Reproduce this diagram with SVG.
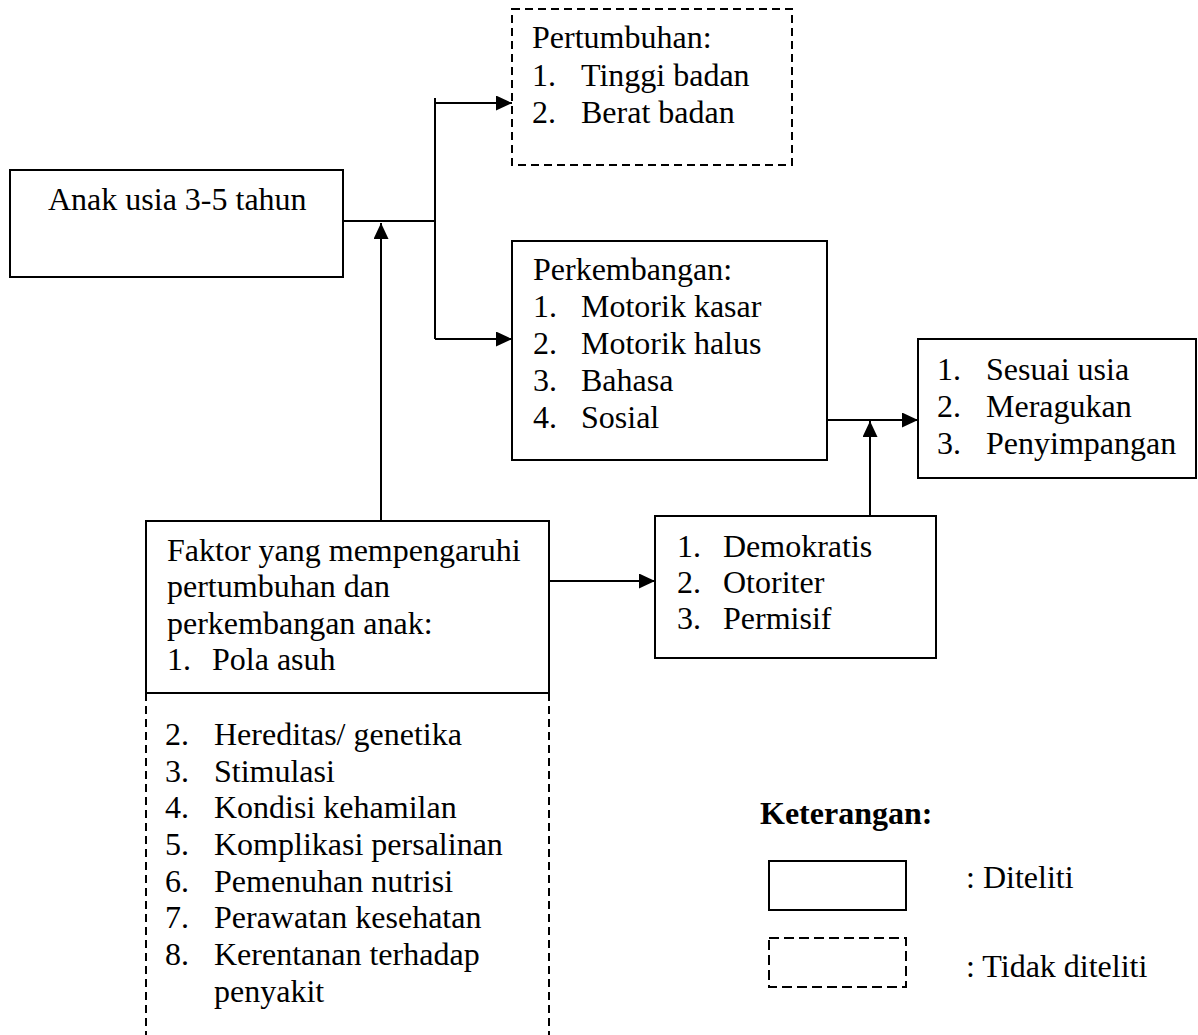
<svg xmlns="http://www.w3.org/2000/svg" width="1198" height="1035" viewBox="0 0 1198 1035">
<style>
  text { font-family: "Liberation Serif", "Times New Roman", serif; font-size: 32px; fill: #000; }
  .bold { font-weight: bold; }
  .box { fill: #fff; stroke: #000; stroke-width: 2; }
  .dash { fill: none; stroke: #000; stroke-width: 2; stroke-dasharray: 8 5; }
  .conn { fill: none; stroke: #000; stroke-width: 2; }
  .arrow { marker-end: url(#ah); }
</style>
<defs>
  <marker id="ah" markerUnits="userSpaceOnUse" markerWidth="16" markerHeight="16" refX="16" refY="7.5" orient="auto">
    <path d="M0,0 L16,7.5 L0,15 Z" fill="#000"/>
  </marker>
</defs>
<rect width="1198" height="1035" fill="#fff"/>

<g id="connectors">
  <path class="conn" d="M343,221 H435"/>
  <path class="conn" d="M435,98 V339"/>
  <path class="conn arrow" d="M435,103 H512"/>
  <path class="conn arrow" d="M435,339 H512"/>
  <path class="conn arrow" d="M381,521 V223"/>
  <path class="conn arrow" d="M827,420 H918"/>
  <path class="conn arrow" d="M870,516 V421"/>
  <path class="conn arrow" d="M549,581 H655"/>
</g>

<g id="node-anak">
  <rect class="box" x="10" y="170" width="333" height="107"/>
  <text x="48" y="210">Anak usia 3-5 tahun</text>
</g>

<g id="node-pertumbuhan">
  <rect class="dash" x="512" y="9" width="280" height="156"/>
  <text x="532" y="48">Pertumbuhan:</text>
  <text x="532" y="86">1.</text><text x="581" y="86">Tinggi badan</text>
  <text x="532" y="123">2.</text><text x="581" y="123">Berat badan</text>
</g>

<g id="node-perkembangan">
  <rect class="box" x="512" y="241" width="315" height="219"/>
  <text x="533" y="280">Perkembangan:</text>
  <text x="533" y="317">1.</text><text x="581" y="317">Motorik kasar</text>
  <text x="533" y="354">2.</text><text x="581" y="354">Motorik halus</text>
  <text x="533" y="391">3.</text><text x="581" y="391">Bahasa</text>
  <text x="533" y="428">4.</text><text x="581" y="428">Sosial</text>
</g>

<g id="node-hasil">
  <rect class="box" x="918" y="339" width="278" height="139"/>
  <text x="937" y="380">1.</text><text x="986" y="380">Sesuai usia</text>
  <text x="937" y="417">2.</text><text x="986" y="417">Meragukan</text>
  <text x="937" y="454">3.</text><text x="986" y="454">Penyimpangan</text>
</g>

<g id="node-pola-asuh">
  <rect class="box" x="655" y="516" width="281" height="142"/>
  <text x="677" y="557">1.</text><text x="723" y="557">Demokratis</text>
  <text x="677" y="593">2.</text><text x="723" y="593">Otoriter</text>
  <text x="677" y="629">3.</text><text x="723" y="629">Permisif</text>
</g>

<g id="node-faktor">
  <rect class="box" x="146" y="521" width="403" height="172"/>
  <path class="dash" d="M146,693 V1035 M549,693 V1035"/>
  <text x="167" y="561">Faktor yang mempengaruhi</text>
  <text x="167" y="597">pertumbuhan dan</text>
  <text x="167" y="634">perkembangan anak:</text>
  <text x="167" y="670">1.</text><text x="212" y="670">Pola asuh</text>
  <text x="165" y="745">2.</text><text x="214" y="745">Hereditas/ genetika</text>
  <text x="165" y="782">3.</text><text x="214" y="782">Stimulasi</text>
  <text x="165" y="818">4.</text><text x="214" y="818">Kondisi kehamilan</text>
  <text x="165" y="855">5.</text><text x="214" y="855">Komplikasi persalinan</text>
  <text x="165" y="892">6.</text><text x="214" y="892">Pemenuhan nutrisi</text>
  <text x="165" y="928">7.</text><text x="214" y="928">Perawatan kesehatan</text>
  <text x="165" y="965">8.</text><text x="214" y="965">Kerentanan terhadap</text>
  <text x="214" y="1002">penyakit</text>
</g>

<g id="legend">
  <text class="bold" x="760" y="824">Keterangan:</text>
  <rect class="box" x="769" y="861" width="137" height="49"/>
  <text x="966" y="888">: Diteliti</text>
  <rect class="dash" x="769" y="938" width="137" height="49" style="stroke-dasharray:10 5"/>
  <text x="966" y="977">: Tidak diteliti</text>
</g>
</svg>
